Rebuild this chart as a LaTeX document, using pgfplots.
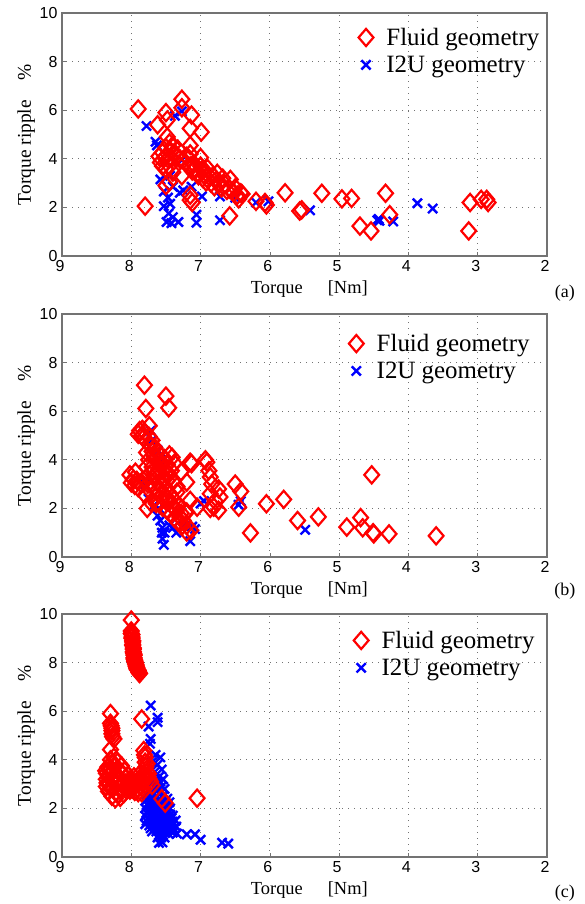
\documentclass[border=0pt]{standalone}
\usepackage{fontspec}
\setmainfont{Liberation Serif}
\setsansfont{Liberation Sans}
\usepackage{pgfplots}
\pgfplotsset{compat=1.18}

% panel (a)
\pgfplotstableread{
x y
7.78 5.35
7.65 4.70
7.63 4.55
7.37 5.77
7.27 5.95
7.58 3.15
7.53 2.65
7.53 2.05
7.44 2.15
7.49 1.40
7.32 1.40
7.40 1.60
7.46 1.75
7.42 1.35
7.06 1.70
7.06 1.37
6.72 1.47
6.98 2.45
6.72 2.45
6.50 2.40
6.20 2.20
6.02 2.25
7.25 2.70
7.13 2.85
7.27 3.95
7.44 3.30
7.30 2.60
7.47 2.40
7.40 2.85
5.42 1.88
4.45 1.47
4.42 1.45
4.43 1.52
4.22 1.42
3.87 2.17
3.65 1.95
}\blueA
\pgfplotstableread{
x y
7.90 6.05
7.80 2.05
7.62 5.40
7.50 5.90
7.48 5.60
7.27 6.45
7.27 6.10
7.13 5.80
7.15 5.25
6.99 5.10
7.15 4.55
7.60 4.10
7.58 3.85
7.55 4.25
7.55 3.70
7.52 4.05
7.50 4.45
7.50 3.60
7.48 4.90
7.47 4.00
7.45 4.65
7.45 3.70
7.43 4.30
7.42 4.00
7.40 4.55
7.40 3.45
7.38 4.25
7.35 4.10
7.33 4.40
7.30 4.00
7.25 3.95
7.20 4.10
7.17 4.00
7.15 4.20
7.15 3.70
7.12 3.50
7.10 3.80
7.08 3.60
7.05 3.40
7.03 3.30
7.00 4.05
7.00 3.70
6.98 3.55
6.97 3.20
6.95 3.35
6.92 3.05
6.90 3.60
6.88 3.30
6.85 3.00
6.82 3.30
6.80 2.85
6.78 3.10
6.76 3.40
6.72 3.00
6.70 2.80
6.68 3.20
6.65 2.95
6.62 2.70
6.58 2.75
6.57 3.15
6.52 2.60
6.50 2.80
6.47 2.50
6.45 2.35
6.42 2.60
6.40 2.55
7.50 2.90
7.45 3.05
7.27 3.30
7.15 2.50
7.12 2.20
7.15 2.30
6.58 1.65
6.20 2.25
6.07 2.20
6.05 2.10
5.78 2.60
5.57 1.85
5.54 1.90
5.25 2.58
4.96 2.35
4.82 2.37
4.70 1.23
4.54 1.03
4.33 2.58
4.27 1.70
3.11 2.20
3.13 1.03
2.95 2.33
2.87 2.33
2.85 2.20
}\redA

% panel (b)
\pgfplotstableread{
x y
7.72 5.20
7.70 4.80
7.62 4.40
7.58 4.00
7.55 3.50
7.80 3.00
7.75 2.40
7.68 2.10
7.60 2.00
7.62 1.70
7.58 1.50
7.55 1.20
7.56 1.00
7.55 0.75
7.53 0.50
7.52 1.00
7.45 1.30
7.40 1.20
7.35 1.00
7.25 1.30
7.15 0.65
7.12 1.25
7.08 1.15
7.00 2.20
6.95 2.30
6.45 2.15
6.42 2.30
5.49 1.12
}\blueB
\pgfplotstableread{
x y
7.81 7.07
7.50 6.62
7.46 6.14
7.79 6.11
7.90 5.05
7.88 5.20
7.85 5.00
7.84 5.25
7.82 4.90
7.80 5.10
7.78 4.75
7.74 5.40
7.74 4.95
7.72 4.60
7.70 4.80
7.70 4.35
7.66 4.50
7.65 4.10
7.62 4.30
7.60 3.90
7.58 4.20
7.56 3.85
7.52 4.05
7.48 3.80
7.45 4.20
7.41 4.10
7.38 3.85
7.42 3.55
7.46 3.40
7.52 3.60
7.78 4.30
7.75 4.00
7.78 3.70
7.74 3.40
7.70 3.70
7.66 3.30
7.62 3.50
7.80 3.20
7.76 3.00
7.70 3.05
7.66 2.90
7.62 2.75
7.58 3.00
7.55 2.60
7.50 2.85
7.47 2.40
7.44 2.60
7.42 2.15
7.38 2.35
7.35 1.90
7.32 2.10
7.30 1.65
7.28 1.80
7.25 1.50
7.22 1.85
7.20 1.30
7.77 2.00
7.72 2.25
7.65 2.45
7.60 2.20
7.55 2.05
7.50 2.30
7.48 1.90
7.42 1.75
7.38 1.60
7.68 4.20
7.60 3.60
7.55 3.20
7.48 3.15
7.40 3.10
7.72 2.70
7.50 3.40
7.34 2.90
7.80 2.55
7.64 2.20
7.33 1.45
7.26 1.30
8.02 3.38
7.94 3.49
8.00 3.05
7.97 3.20
7.95 2.95
7.92 3.15
7.90 2.85
7.87 3.05
7.34 2.67
7.20 3.08
7.28 3.50
7.15 3.90
7.13 3.84
7.15 2.33
7.05 2.05
7.20 1.85
7.14 1.10
7.20 1.03
6.93 4.00
6.91 3.90
6.88 3.55
6.86 3.29
6.84 3.00
6.74 2.80
6.72 2.47
6.86 2.60
6.81 2.05
6.74 1.92
6.86 2.00
6.79 2.30
6.50 3.00
6.42 2.70
6.45 2.05
6.05 2.19
5.80 2.37
5.60 1.50
5.30 1.65
6.28 0.99
4.89 1.23
4.69 1.62
4.66 1.20
4.53 3.38
4.51 1.00
4.50 0.95
4.28 0.95
3.60 0.87
}\redB

% panel (c)
\pgfplotstableread{
x y
7.72 6.23
7.62 5.73
7.62 5.55
7.75 5.37
7.72 4.86
7.73 4.66
7.58 4.10
7.65 4.20
7.70 3.90
7.62 3.80
7.56 3.60
7.66 3.50
7.60 3.30
7.54 3.20
7.68 3.10
7.62 3.00
7.56 2.90
7.52 2.80
7.74 2.70
7.68 2.65
7.60 2.60
7.54 2.50
7.48 2.40
7.78 2.35
7.72 2.30
7.66 2.25
7.60 2.20
7.54 2.15
7.48 2.10
7.44 2.00
7.80 2.00
7.74 1.95
7.68 1.90
7.62 1.88
7.56 1.85
7.50 1.80
7.44 1.75
7.40 1.70
7.80 1.70
7.76 1.60
7.70 1.60
7.64 1.60
7.58 1.55
7.52 1.50
7.46 1.50
7.40 1.45
7.36 1.50
7.80 1.35
7.74 1.30
7.68 1.30
7.62 1.30
7.56 1.25
7.50 1.25
7.44 1.20
7.38 1.15
7.35 1.25
7.70 1.05
7.64 1.05
7.58 1.00
7.52 1.00
7.46 0.95
7.40 1.00
7.62 0.80
7.57 0.80
7.52 0.80
7.60 0.58
7.55 0.60
7.77 2.55
7.71 2.50
7.65 2.45
7.57 2.35
7.51 2.30
7.45 2.25
7.77 2.15
7.71 2.10
7.65 2.05
7.59 2.02
7.53 1.98
7.47 1.93
7.78 1.82
7.72 1.78
7.66 1.75
7.60 1.72
7.54 1.68
7.48 1.63
7.42 1.60
7.78 1.48
7.72 1.45
7.66 1.45
7.60 1.42
7.54 1.38
7.48 1.36
7.42 1.33
7.72 1.18
7.66 1.18
7.60 1.15
7.54 1.12
7.48 1.10
7.42 1.08
7.60 0.90
7.54 0.90
7.66 2.85
7.60 2.80
7.58 3.10
7.63 3.15
7.34 0.96
7.20 0.93
7.08 0.93
7.00 0.71
6.69 0.59
6.60 0.55
}\blueC
\pgfplotstableread{
x y
8.00 9.75
8.00 9.30
8.00 9.20
7.99 9.15
7.99 9.05
7.99 9.00
7.98 8.90
7.98 8.85
7.98 8.75
7.98 8.70
7.97 8.60
7.97 8.55
7.97 8.45
7.97 8.40
7.96 8.35
7.96 8.30
7.96 8.20
7.96 8.15
7.95 8.10
7.95 8.05
7.94 8.00
7.94 7.95
7.93 7.90
7.93 7.85
7.92 7.80
7.92 7.75
7.91 7.70
7.90 7.68
7.89 7.60
7.88 7.55
8.30 5.90
8.30 5.50
8.29 5.40
8.28 5.30
8.28 5.20
8.28 5.07
8.27 4.95
8.25 4.86
8.30 4.42
8.37 3.55
8.36 3.45
8.36 3.20
8.36 2.90
8.35 3.05
8.34 3.70
8.33 2.70
8.33 3.30
8.32 3.40
8.32 3.00
8.32 3.55
8.30 4.00
8.30 3.65
8.30 2.85
8.29 3.15
8.28 2.50
8.28 3.85
8.27 3.25
8.26 2.85
8.26 3.55
8.25 4.10
8.24 3.70
8.24 3.05
8.23 2.40
8.22 3.40
8.22 2.65
8.21 3.00
8.20 3.90
8.20 3.20
8.19 2.60
8.18 3.60
8.17 3.20
8.16 2.45
8.15 2.85
8.15 3.45
8.14 3.75
8.13 3.05
8.12 3.40
8.11 2.60
8.10 3.55
8.09 3.05
8.08 3.25
8.07 2.75
8.06 2.95
8.05 3.35
8.04 3.00
8.03 3.15
8.02 2.75
8.00 3.10
7.99 2.80
7.98 2.90
7.97 3.05
7.96 3.30
7.95 2.70
7.94 2.95
7.92 3.10
7.91 2.80
7.90 2.65
7.89 3.05
7.88 3.40
7.87 2.90
7.86 3.15
7.85 2.65
7.84 2.85
7.85 5.68
7.82 4.38
7.81 4.20
7.80 4.10
7.80 3.90
7.79 3.70
7.83 3.40
7.83 3.10
7.77 3.84
7.77 3.50
7.76 3.30
7.75 3.42
7.74 3.20
7.72 3.10
7.70 2.95
7.56 2.40
7.51 2.22
7.05 2.42
}\redC

\pgfplotsset{
  panel/.style={
    at={(62bp,#1)}, anchor=south west,
    scale only axis, width=485bp, height=243bp,
    x dir=reverse, xmin=2, xmax=9, ymin=0, ymax=10,
    xtick={2,...,9}, ytick={0,2,...,10},
    axis line style={draw=black!55, line width=1.1bp},
    tick style={draw=black!55, line width=0.6bp},
    major tick length=4bp, tick pos=lower,
    grid=major,
    major grid style={dash pattern=on 1bp off 5bp, draw=black!55, line width=0.8bp},
    tick label style={font=\sffamily\fontsize{16}{16}\selectfont},
    /pgf/number format/assume math mode=true,
    xticklabel style={yshift=-1bp, xshift=-2bp},
    yticklabel style={xshift=-1bp},
    xlabel={Torque\hspace{25bp}[Nm]},
    ylabel={Torque ripple\hspace{20bp}\%},
    xlabel style={font=\fontsize{18.5}{18.5}\selectfont,
      at={(axis description cs:0.51,-0.138)}, anchor=center},
    ylabel style={font=\fontsize{19.5}{19.5}\selectfont,
      at={(axis description cs:-0.074,0.5)}, anchor=center},
    clip=false,
    reverse legend,
    legend cell align=left,
    legend style={draw=none, fill=none,
      font=\fontsize{25}{25}\selectfont, row sep=5bp,
      /tikz/every odd column/.append style={column sep=11bp}},
  },
  fluid/.style={only marks, mark=diamond, mark size=8.6bp, color=red,
    mark options={xscale=1.15, line width=2.2bp, fill=none, draw=red, solid}},
  i2u/.style={only marks, mark=x, mark size=6.5bp, color=blue,
    mark options={line width=2.4bp, draw=blue, solid}},
}

\begin{document}
\begin{tikzpicture}[x=1bp,y=1bp]
\useasboundingbox (0,0) rectangle (585,904);

\begin{axis}[panel=648bp, legend style={at={(0.605,0.955)}, anchor=north west}]
\addplot[i2u] table {\blueA};
\addplot[fluid] table {\redA};
\legend{I2U geometry, Fluid geometry}
\node[font=\fontsize{18}{18}\selectfont] at (axis description cs:1.037,-0.152) {(a)};
\end{axis}

\begin{axis}[panel=347bp, legend style={at={(0.585,0.934)}, anchor=north west}]
\addplot[i2u] table {\blueB};
\addplot[fluid] table {\redB};
\legend{I2U geometry, Fluid geometry}
\node[font=\fontsize{18}{18}\selectfont] at (axis description cs:1.037,-0.14) {(b)};
\end{axis}

\begin{axis}[panel=47bp, legend style={at={(0.595,0.947)}, anchor=north west}]
\addplot[i2u] table {\blueC};
\addplot[fluid] table {\redC};
\legend{I2U geometry, Fluid geometry}
\node[font=\fontsize{18}{18}\selectfont] at (axis description cs:1.037,-0.15) {(c)};
\end{axis}
\end{tikzpicture}
\end{document}
